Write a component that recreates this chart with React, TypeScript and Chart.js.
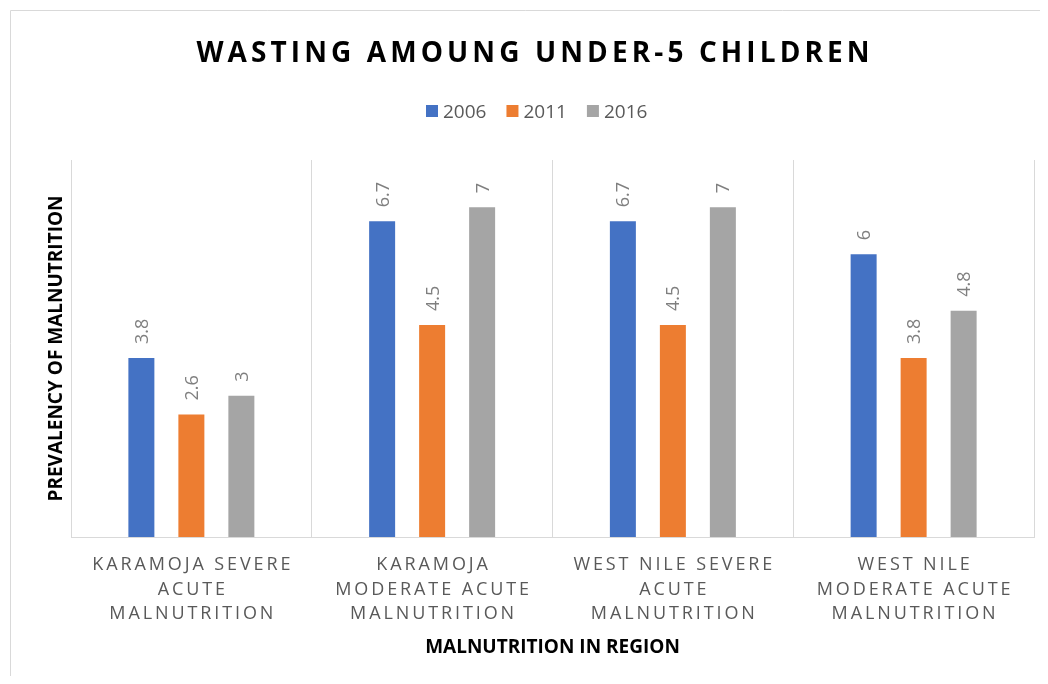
import React, { useEffect, useRef } from "react";
import { Chart, registerables } from "chart.js";

Chart.register(...registerables);

const categories: string[][] = [
  ["KARAMOJA SEVERE", "ACUTE", "MALNUTRITION"],
  ["KARAMOJA", "MODERATE ACUTE", "MALNUTRITION"],
  ["WEST NILE SEVERE", "ACUTE", "MALNUTRITION"],
  ["WEST NILE", "MODERATE ACUTE", "MALNUTRITION"],
];
const seriesNames = ["2006", "2011", "2016"];
const values2006 = [3.8, 6.7, 6.7, 6];
const values2011 = [2.6, 4.5, 4.5, 3.8];
const values2016 = [3, 7, 7, 4.8];
const seriesColors = ["#4472C4", "#ED7D31", "#A5A5A5"];
const titleText = "WASTING AMOUNG UNDER-5 CHILDREN";
const xTitleText = "MALNUTRITION IN REGION";
const yTitleText = "PREVALENCY OF MALNUTRITION";
const yMin = 0;
const yMax = 8;

const FONT = '"Open Sans", "DejaVu Sans", sans-serif';

const drawSpaced = (ctx: CanvasRenderingContext2D, text: string, x: number, y: number, spacing: number) => {
  (ctx as any).letterSpacing = spacing + "px";
  ctx.fillText(text, x + spacing / 2, y);
  (ctx as any).letterSpacing = "0px";
};

const textPlugin = {
  id: "customText",
  afterDraw(chart: any) {
    const ctx: CanvasRenderingContext2D = chart.ctx;
    const area = chart.chartArea;
    const xs = chart.scales.x;
    ctx.save();

    // outer frame (left & top edges visible)
    ctx.strokeStyle = "#d9d9d9";
    ctx.lineWidth = 1;
    ctx.beginPath();
    ctx.moveTo(2.5, chart.height);
    ctx.lineTo(2.5, 2.5);
    ctx.lineTo(chart.width, 2.5);
    ctx.stroke();

    // title
    ctx.fillStyle = "#000000";
    ctx.font = "bold 28px " + FONT;
    ctx.textAlign = "center";
    ctx.textBaseline = "alphabetic";
    drawSpaced(ctx, titleText, 525, 54, 4.1);

    // legend
    ctx.font = "19px " + FONT;
    ctx.textAlign = "left";
    let lx = 418;
    seriesNames.forEach((name, i) => {
      ctx.fillStyle = seriesColors[i];
      ctx.fillRect(lx, 97, 12, 12);
      ctx.fillStyle = "#595959";
      ctx.fillText(name, lx + 17, 110);
      lx += 17 + ctx.measureText(name).width + 20;
    });

    // x tick labels
    ctx.font = "18px " + FONT;
    ctx.fillStyle = "#595959";
    ctx.textAlign = "center";
    categories.forEach((lines, i) => {
      const x = xs.getPixelForValue(i);
      lines.forEach((line, j) => {
        drawSpaced(ctx, line, x, area.bottom + 33 + j * 24.5, 2.9);
      });
    });

    // axis titles
    ctx.fillStyle = "#000000";
    ctx.font = "bold 19px " + FONT;
    ctx.textAlign = "center";
    ctx.fillText(xTitleText, (area.left + area.right) / 2, 645);
    ctx.save();
    ctx.translate(54, (area.top + area.bottom) / 2);
    ctx.rotate(-Math.PI / 2);
    ctx.fillText(yTitleText, 0, 0);
    ctx.restore();

    // data labels
    ctx.font = "18px " + FONT;
    ctx.fillStyle = "#7f7f7f";
    ctx.textAlign = "left";
    chart.data.datasets.forEach((ds: any, di: number) => {
      const meta = chart.getDatasetMeta(di);
      meta.data.forEach((bar: any, i: number) => {
        ctx.save();
        ctx.translate(bar.x + 6.5, bar.y - 14);
        ctx.rotate(-Math.PI / 2);
        ctx.fillText(String(ds.data[i]), 0, 0);
        ctx.restore();
      });
    });

    ctx.restore();
  },
};

export default function App() {
  const ref = useRef<HTMLCanvasElement | null>(null);
  useEffect(() => {
    if (!ref.current) return;
    const chart = new Chart(ref.current, {
      type: "bar",
      data: {
        labels: categories,
        datasets: [values2006, values2011, values2016].map((d, i) => ({
          label: seriesNames[i],
          data: d,
          backgroundColor: seriesColors[i],
          borderWidth: 0,
          categoryPercentage: 0.623,
          barPercentage: 0.52,
        })),
      },
      options: {
        responsive: false,
        animation: false,
        events: [],
        layout: { padding: { left: 63, right: 6, top: 152, bottom: 139 } },
        plugins: {
          legend: { display: false },
          title: { display: false },
          tooltip: { enabled: false },
        },
        scales: {
          x: {
            ticks: { display: false },
            grid: { color: "#d9d9d9", lineWidth: 1, drawTicks: false, offset: true },
            border: { color: "#d9d9d9", width: 1 },
          },
          y: {
            display: false,
            min: yMin,
            max: yMax,
          },
        },
      },
      plugins: [textPlugin],
    });
    return () => chart.destroy();
  }, []);
  return (
    <div style={{ width: 1032, height: 668, overflow: "hidden" }}>
      <canvas ref={ref} width={1032} height={668} style={{ display: "block" }} />
    </div>
  );
}
